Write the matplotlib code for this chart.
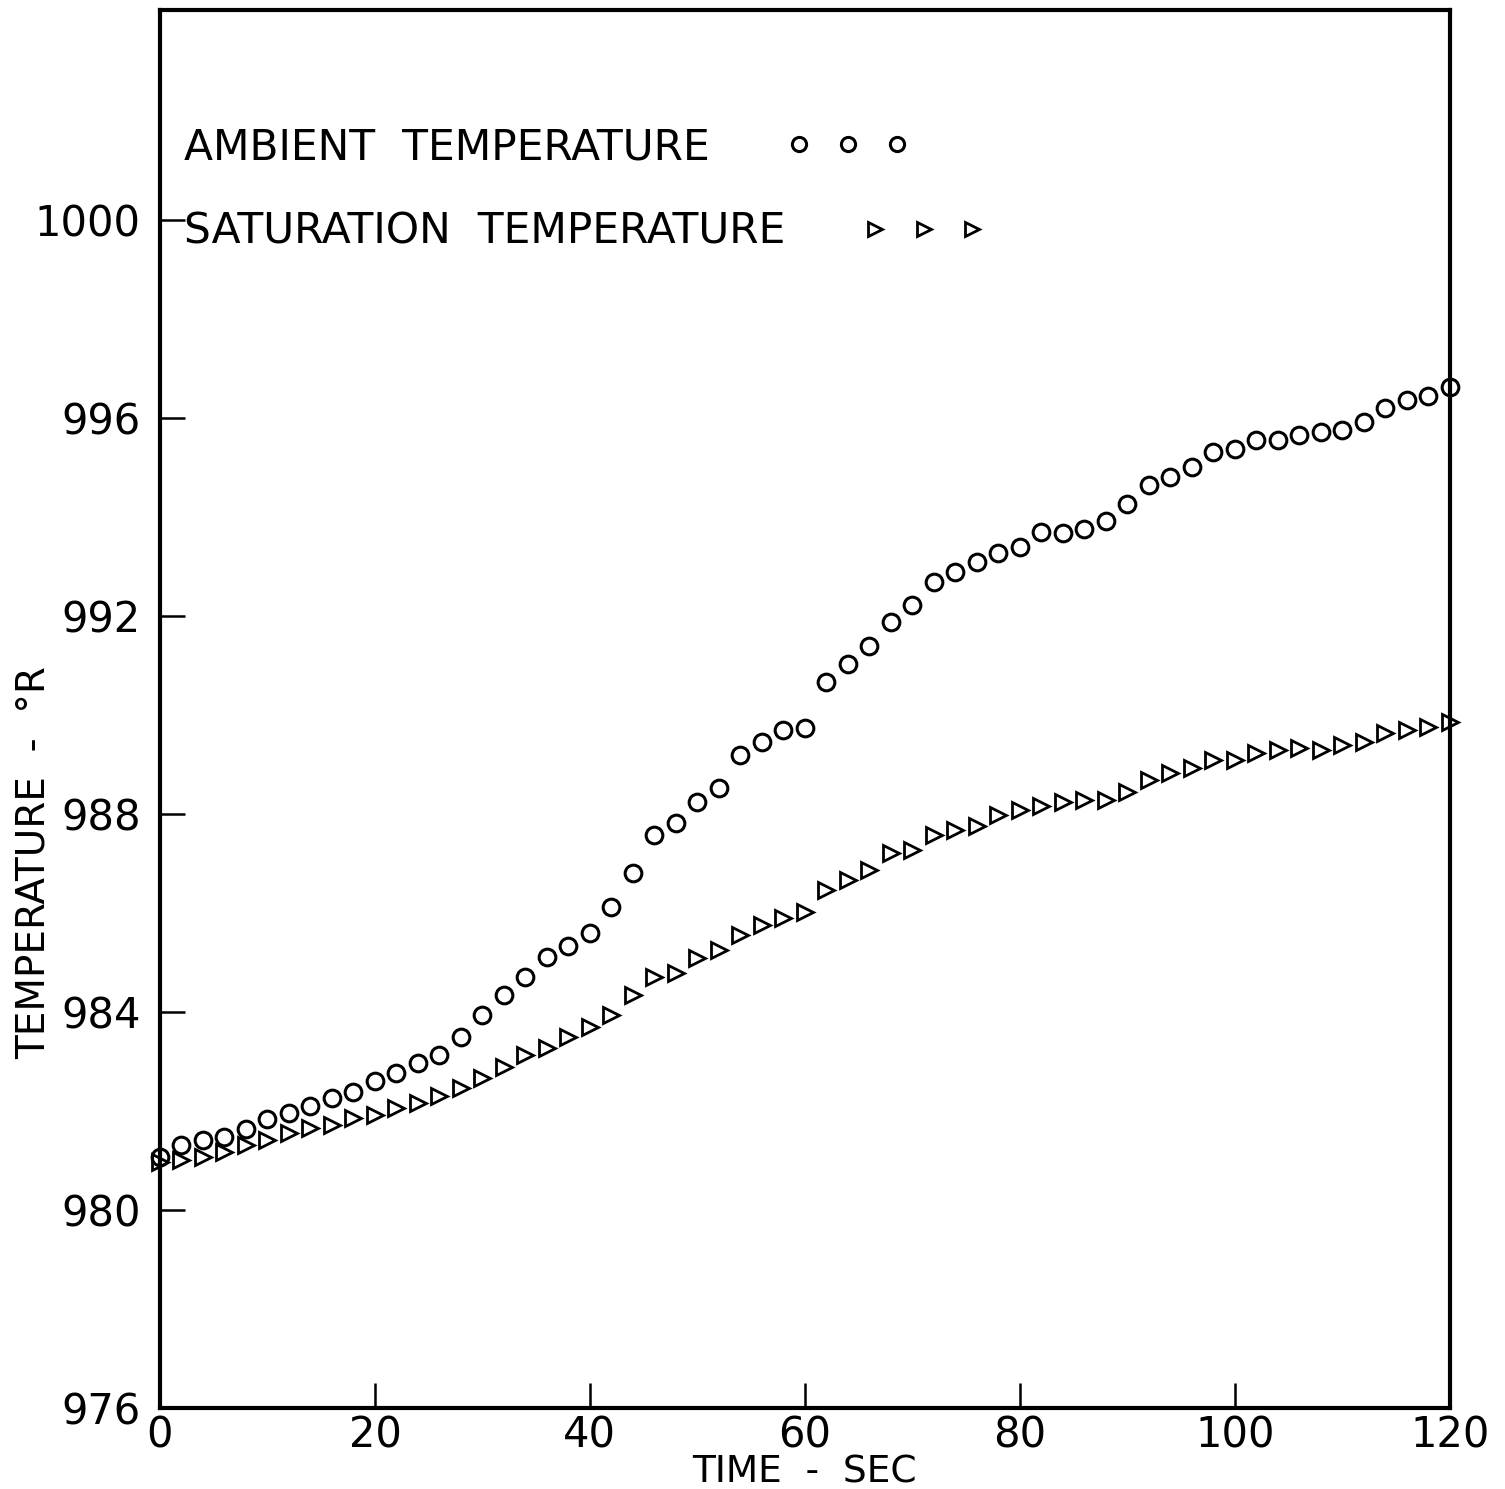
import matplotlib
matplotlib.use("Agg")
import matplotlib.pyplot as plt
import numpy as np

# time (sec), sampled every 2 s
time_sec = list(range(0, 122, 2))

ambient_temp = [
    981.07, 981.31, 981.41, 981.47, 981.64, 981.84, 981.96, 982.10, 982.26, 982.38,
    982.61, 982.77, 982.97, 983.13, 983.49, 983.94, 984.34, 984.71, 985.11, 985.33,
    985.60, 986.12, 986.81, 987.58, 987.82, 988.24, 988.53, 989.19, 989.45, 989.70,
    989.74, 990.67, 991.03, 991.39, 991.88, 992.22, 992.69, 992.89, 993.09, 993.27,
    993.39, 993.70, 993.68, 993.76, 993.92, 994.26, 994.65, 994.81, 995.01, 995.31,
    995.37, 995.56, 995.56, 995.66, 995.72, 995.76, 995.92, 996.20, 996.36, 996.44,
    996.63,
]

saturation_temp = [
    980.97, 981.01, 981.07, 981.17, 981.31, 981.41, 981.56, 981.66, 981.72, 981.86,
    981.92, 982.06, 982.16, 982.30, 982.46, 982.67, 982.89, 983.13, 983.27, 983.49,
    983.70, 983.94, 984.34, 984.71, 984.79, 985.09, 985.25, 985.56, 985.76, 985.90,
    986.02, 986.46, 986.67, 986.87, 987.21, 987.27, 987.58, 987.68, 987.76, 987.98,
    988.08, 988.16, 988.24, 988.28, 988.28, 988.44, 988.69, 988.83, 988.93, 989.09,
    989.09, 989.23, 989.29, 989.33, 989.29, 989.39, 989.45, 989.64, 989.70, 989.76,
    989.86,
]

x_ticks = [0, 20, 40, 60, 80, 100, 120]
y_ticks = [976, 980, 984, 988, 992, 996, 1000]

plt.rcParams['font.family'] = ['DejaVu Sans']

fig = plt.figure(figsize=(15.05, 14.89), dpi=100)
ax = fig.add_axes([0.1063, 0.0544, 0.857, 0.9389])

ax.plot(time_sec, ambient_temp, linestyle='none', marker='o', markersize=12,
        markerfacecolor='none', markeredgecolor='black', markeredgewidth=2.2,
        label='AMBIENT  TEMPERATURE', clip_on=False)
ax.plot(time_sec, saturation_temp, linestyle='none', marker='>', markersize=11.5,
        markerfacecolor='none', markeredgecolor='black', markeredgewidth=2.0,
        label='SATURATION  TEMPERATURE', clip_on=False)

ax.set_xlim(0, 120)
ax.set_ylim(976, 1004.24)
ax.set_xticks(x_ticks)
ax.set_yticks(y_ticks)
ax.tick_params(direction='in', length=18, width=1.8, labelsize=30, pad=5)
ax.tick_params(axis='y', pad=14)
for s in ax.spines.values():
    s.set_linewidth(3)

ax.set_xlabel('TIME  -  SEC', fontsize=27)
ax.xaxis.set_label_coords(0.5, -0.0335)
ax.set_ylabel('TEMPERATURE  -  °R', fontsize=28)
ax.yaxis.set_label_coords(-0.083, 0.39)

leg = ax.legend(loc='upper left', bbox_to_anchor=(0.019, 0.917), frameon=False,
                markerfirst=False, numpoints=3, markerscale=0.85, fontsize=30.5,
                handlelength=2.9, handletextpad=1.8, labelspacing=1.0,
                borderpad=0, borderaxespad=0)
# keep the labels left aligned, markers right after each label
for col in leg._legend_handle_box.get_children():
    col.align = 'left'

fig.savefig('out.png', dpi=100)
